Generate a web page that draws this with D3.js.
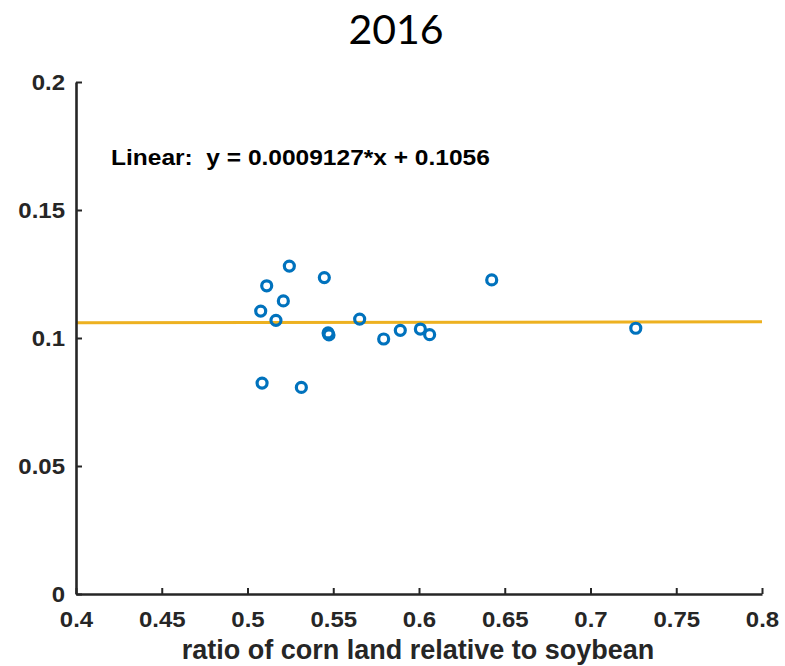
<!DOCTYPE html>
<html>
<head>
<meta charset="utf-8">
<script src="https://cdn.jsdelivr.net/npm/d3@7"></script>
<style>
  body { margin: 0; background: #fff; }
  svg { display: block; }
  .tick text { font-family: "Liberation Sans", Arial, sans-serif; font-weight: bold; }
</style>
</head>
<body>
<script>
"use strict";

// Scatter of 2016 ratios with a linear fit.

const title = "2016";
const xLabel = "ratio of corn land relative to soybean";
const fitLabel = "Linear:  y = 0.0009127*x + 0.1056";

const xTicks = [0.4, 0.45, 0.5, 0.55, 0.6, 0.65, 0.7, 0.75, 0.8];
const yTicks = [0, 0.05, 0.1, 0.15, 0.2];

const ratioX = [0.5077, 0.5112, 0.5244, 0.5209, 0.5166, 0.5448, 0.5470, 0.5475,
                0.5654, 0.5794, 0.5891, 0.6008, 0.6062, 0.5085, 0.5314, 0.6424, 0.7264];
const valueY = [0.1105, 0.1204, 0.1281, 0.1145, 0.1069, 0.1236, 0.1020, 0.1012,
                0.1074, 0.0996, 0.1030, 0.1035, 0.1013, 0.0824, 0.0807, 0.1227, 0.1038];

const fitSlope = 0.0009127;
const fitIntercept = 0.1056;

const width = 785, height = 666;
const plotLeft = 76, plotRight = 762, plotTop = 82, plotBottom = 594;
const stretch = 1.09; // text in the picture is a bit wider than Arial

const svg = d3.select("body").append("svg")
    .attr("width", width)
    .attr("height", height);

const x = d3.scaleLinear().domain([0.4, 0.8]).range([plotLeft, plotRight]);
const y = d3.scaleLinear().domain([0, 0.2]).range([plotBottom, plotTop]);

svg.append("text")
    .attr("x", 396)
    .attr("y", 44)
    .attr("text-anchor", "middle")
    .attr("font-family", "Lato, 'Open Sans', sans-serif")
    .attr("font-size", 41)
    .attr("fill", "#000")
    .text(title);

// fit line over the whole x range
const fitXs = x.domain();
svg.append("line")
    .attr("x1", x(fitXs[0]))
    .attr("x2", x(fitXs[1]))
    .attr("y1", y(fitSlope * fitXs[0] + fitIntercept))
    .attr("y2", y(fitSlope * fitXs[1] + fitIntercept))
    .attr("stroke", "#EDB120")
    .attr("stroke-width", 3);

const points = ratioX.map((v, i) => ({x: v, y: valueY[i]}));
svg.append("g")
  .selectAll("circle")
  .data(points)
  .enter().append("circle")
    .attr("cx", d => x(d.x))
    .attr("cy", d => y(d.y))
    .attr("r", 5)
    .attr("fill", "none")
    .attr("stroke", "#0072BD")
    .attr("stroke-width", 3.2);

const xAxis = svg.append("g")
    .attr("transform", `translate(0,${plotBottom})`)
    .call(d3.axisBottom(x).tickValues(xTicks).tickFormat(d3.format("")).tickSizeInner(-6).tickSizeOuter(0).tickPadding(17));

const yAxis = svg.append("g")
    .attr("transform", `translate(${plotLeft},0)`)
    .call(d3.axisLeft(y).tickValues(yTicks).tickFormat(d3.format("")).tickSizeInner(-6).tickSizeOuter(0).tickPadding(11 / stretch));

for (const g of [xAxis, yAxis]) {
  g.select(".domain").attr("stroke", "#262626").attr("stroke-width", 2.6);
  g.selectAll(".tick line").attr("stroke", "#262626").attr("stroke-width", 2);
  g.selectAll(".tick text")
      .attr("fill", "#262626")
      .attr("font-size", 22)
      .attr("transform", `scale(${stretch},1)`);
}
xAxis.selectAll(".tick text").attr("dy", "0.71em");

svg.append("text")
    .attr("x", 418)
    .attr("y", 659)
    .attr("text-anchor", "middle")
    .attr("font-family", "'Liberation Sans', Arial, sans-serif")
    .attr("font-weight", "bold")
    .attr("font-size", 27)
    .attr("fill", "#262626")
    .text(xLabel);

svg.append("text")
    .attr("transform", `translate(111,165) scale(1.115,1)`)
    .attr("font-family", "'Liberation Sans', Arial, sans-serif")
    .attr("font-weight", "bold")
    .attr("font-size", 22)
    .attr("fill", "#000")
    .attr("xml:space", "preserve")
    .style("white-space", "pre")
    .text(fitLabel);
</script>
</body>
</html>
